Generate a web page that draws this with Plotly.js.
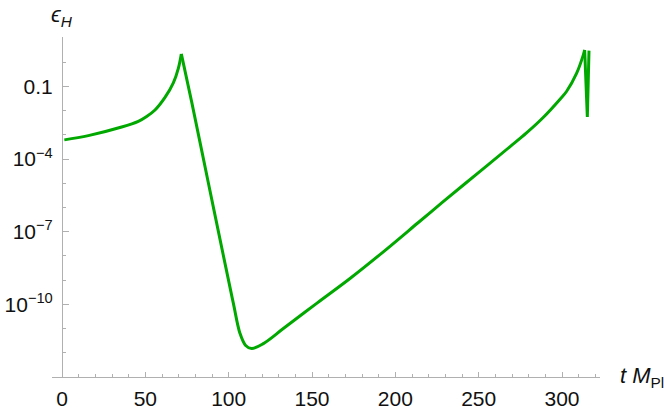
<!DOCTYPE html>
<html>
<head>
<meta charset="utf-8">
<script src="https://cdn.plot.ly/plotly-3.0.1.min.js"></script>
<style>html,body{margin:0;padding:0;background:#fff;}#chart{width:664px;height:411px;}</style>
</head>
<body>
<div id="chart"></div>
<script>
// time in Planck units (t M_Pl)
const tValues = [1.4, 15.8, 35.8, 45.8, 50.8, 55.8, 61.8, 66.8, 69.8, 71.6,
                 77.8, 87.8, 97.8, 102.8, 106.8, 110.2, 113.8, 120.8, 132.8, 152.8, 172.8, 192.8, 213.8, 228.7, 248.8, 268.7, 278.7, 288.7, 298.7, 302.8, 308.8, 312.8, 313.6,
                 315.2, 316.2];
// Hubble slow-roll parameter epsilon_H
const epsH = [6.2e-4, 9.3e-4, 2.1e-3, 3.6e-3, 5.7e-3, 1.06e-2, 3.5e-2, 1.4e-1, 5.6e-1, 2.2,
              2.3e-2, 1.05e-5, 4.9e-9, 1.12e-10, 6.3e-12, 2.0e-12, 1.5e-12, 2.4e-12, 1.0e-11, 1.1e-10, 1.17e-9, 1.48e-8, 2.4e-7, 1.74e-6, 2.4e-5, 3.2e-4, 1.2e-3, 5.2e-3, 2.9e-2, 6.3e-2, 3.5e-1, 2.0, 3.2,
              5.5e-3, 3.0];
// times where the curve has sharp corners (segments are drawn smooth between them)
const cornerTimes = [71.6, 313.6];

const yMajorVals = [0.1, 1e-4, 1e-7, 1e-10];
const yMajorText = ["0.1", "10<sup>−4</sup>", "10<sup>−7</sup>", "10<sup>−10</sup>"];
const yMinorVals = [10, 1, 1e-2, 1e-3, 1e-5, 1e-6, 1e-8, 1e-9, 1e-11, 1e-12, 1e-13];
const xMajorVals = [0, 50, 100, 150, 200, 250, 300];

const font = {family: "Liberation Sans, Arial, sans-serif", size: 21, color: "#111"};
const axisGray = "#b0b0b0";
const xMin = -6, xMax = 322.8;

// split into segments at the corner times
const bounds = [0].concat(cornerTimes.map(c => tValues.indexOf(c)), [tValues.length - 1]);
const traces = [];
for (let s = 0; s < bounds.length - 1; s++) {
  const a = bounds[s], b = bounds[s + 1];
  const isLast = s === bounds.length - 2;
  traces.push({
    x: tValues.slice(a, b + 1), y: epsH.slice(a, b + 1),
    type: "scatter", mode: "lines",
    line: {color: "#00a800", width: 3, shape: isLast ? "linear" : "spline", smoothing: 1},
    hoverinfo: "skip"
  });
}

const layout = {
  width: 664, height: 411,
  margin: {l: 52, r: 64, t: 37, b: 34},
  paper_bgcolor: "#fff", plot_bgcolor: "#fff",
  showlegend: false,
  font: font,
  xaxis: {
    range: [xMin, xMax], domain: [0, 1],
    showgrid: false, zeroline: false,
    showline: true, linecolor: axisGray, linewidth: 1,
    tickmode: "array", tickvals: xMajorVals,
    ticks: "inside", ticklen: 5, tickcolor: axisGray, tickwidth: 1,
    ticklabelstandoff: 3,
    tickfont: font,
    minor: {tickmode: "linear", tick0: 0, dtick: 10, ticks: "inside", ticklen: 3, tickcolor: axisGray, tickwidth: 1, showgrid: false}
  },
  yaxis: {
    type: "log", range: [-13.0, 1.04],
    anchor: "free", position: (0 - xMin) / (xMax - xMin),
    showgrid: false, zeroline: false,
    showline: true, linecolor: axisGray, linewidth: 1,
    tickmode: "array", tickvals: yMajorVals, ticktext: yMajorText,
    ticks: "inside", ticklen: 6, tickcolor: axisGray, tickwidth: 1,
    ticklabelstandoff: 5,
    tickfont: font,
    minor: {tickmode: "array", tickvals: yMinorVals, ticks: "inside", ticklen: 3, tickcolor: axisGray, tickwidth: 1, showgrid: false}
  },
  annotations: [
    {xref: "paper", yref: "paper", x: 1, y: 0, xanchor: "left", yanchor: "middle",
     xshift: 18, yshift: 0, showarrow: false,
     text: "<i>t M</i><sub>Pl</sub>", font: {family: font.family, size: 22, color: "#111"}},
    {xref: "paper", yref: "paper", x: (0 - xMin) / (xMax - xMin), y: 1, xanchor: "center", yanchor: "bottom",
     xshift: 0, yshift: 5, showarrow: false,
     text: "<i>ϵ</i><sub><i>H</i></sub>", font: {family: font.family, size: 22, color: "#111"}}
  ]
};

Plotly.newPlot("chart", traces, layout, {staticPlot: true, displayModeBar: false});
</script>
</body>
</html>
